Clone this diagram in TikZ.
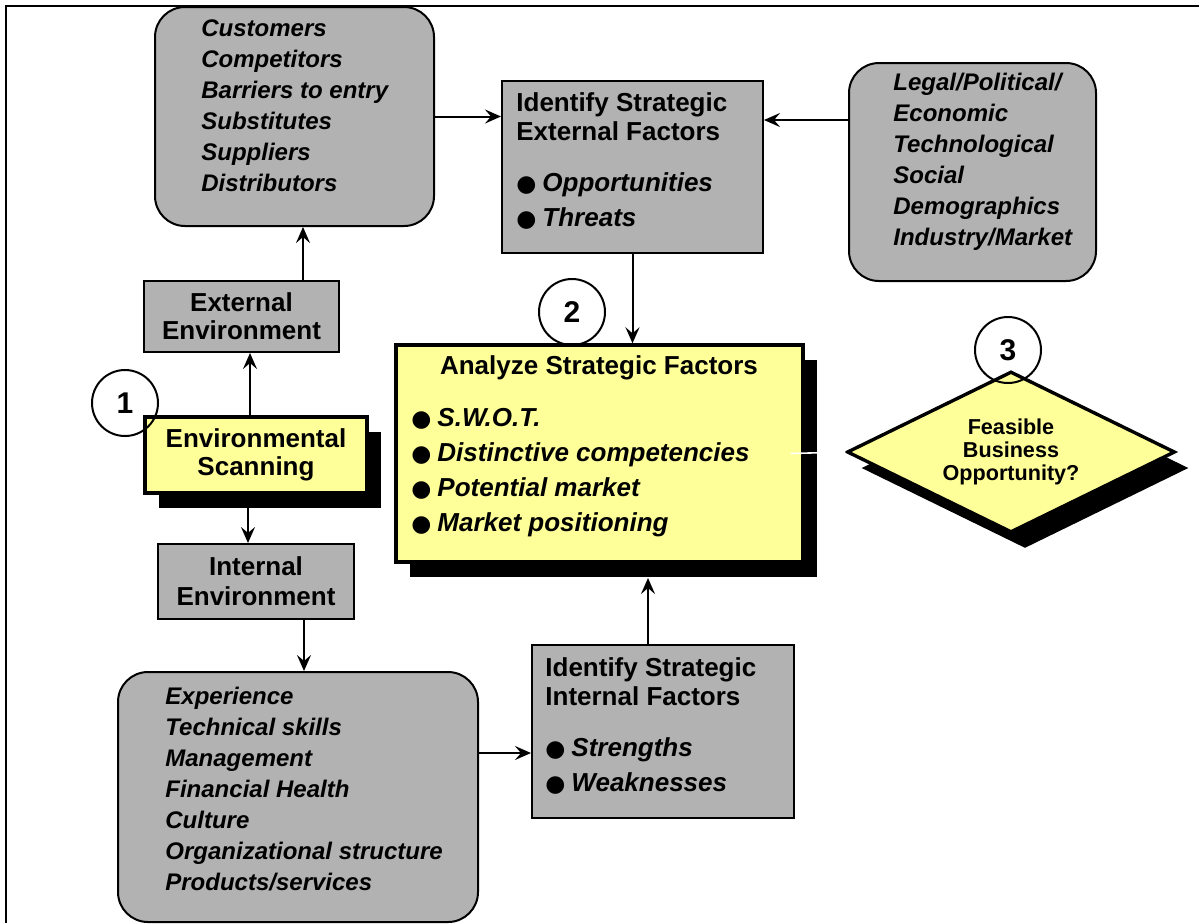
\documentclass[tikz,border=0pt]{standalone}
\usepackage{fontspec}
\setmainfont{Liberation Sans}
\newfontfamily\dotfont{DejaVu Sans}
\usetikzlibrary{arrows.meta, positioning, shapes.geometric, shadows}
\definecolor{boxgrey}{RGB}{178,178,178}
\definecolor{noteyellow}{RGB}{255,255,153}
\newcommand{\bul}{{\dotfont\fontsize{11.5}{11.5}\selectfont ●}\hspace{3pt}}
\tikzstyle{every node}=[font=\bfseries\fontsize{13}{14.5}\selectfont]
\tikzset{GreyBox/.style = {
			shape          = rectangle,
			draw           = black,
			fill           = boxgrey,
			line width     = 1pt,
			inner sep      = 0pt}
			}
\tikzset{GreyRound/.style = {GreyBox, rounded corners = 15pt}}
\tikzset{YellowBox/.style = {
			shape          = rectangle,
			draw           = black,
			fill           = noteyellow,
			line width     = 1.7pt,
			inner sep      = 0pt,
			drop shadow    = {shadow xshift=7pt, shadow yshift=-7.5pt, fill=black, opacity=1}}
			}
\tikzset{DecisionStyle/.style = {
			shape          = diamond,
			aspect         = 2,
			draw           = black,
			fill           = noteyellow,
			line width     = 1.7pt,
			inner sep      = 0pt,
			minimum width  = 164pt,
			minimum height = 80.5pt,
			align          = center,
			font           = \bfseries\fontsize{10.8}{11.5}\selectfont,
			drop shadow    = {shadow xshift=7pt, shadow yshift=-8pt, fill=black, opacity=1}}
			}
\tikzset{ListStyle/.style = {
			align          = left,
			anchor         = west,
			inner sep      = 0pt,
			font           = \bfseries\itshape\fontsize{12}{15.5}\selectfont}
			}
\tikzset{FactorStyle/.style = {align = left, anchor = west, inner sep = 0pt}}
\tikzset{TitleStyle/.style = {align = center, inner sep = 0pt}}
\tikzset{StepCircle/.style = {
			shape          = circle,
			draw           = black,
			line width     = 1pt,
			minimum size   = 33pt,
			inner sep      = 0pt,
			font           = \bfseries\fontsize{15}{18}\selectfont}
			}
\tikzset{EdgeStyle/.style = {line width=1pt, -{Stealth[length=8pt, width=7pt, inset=3pt]}}}

\begin{document}
\begin{tikzpicture}[x=0.5pt,y=-0.5pt]
	\useasboundingbox (0,0) rectangle (1199,923);
	\draw[line width=1pt] (6,923) -- (6,6) -- (1199,6);

	% boxes
	\draw (294.5,116.5) node[GreyRound, minimum width=139.5pt, minimum height=109.5pt] (ExtList) {};
	\draw (632.5,167) node[GreyBox, minimum width=130.5pt, minimum height=86pt] (IdExt) {};
	\draw (972.5,172) node[GreyRound, minimum width=123.5pt, minimum height=109pt] (Legal) {};
	\draw (241.5,316.5) node[GreyBox, minimum width=97.5pt, minimum height=35.5pt, align=center, font=\bfseries\fontsize{13}{14}\selectfont] (ExtEnv) {External\\Environment};
	\draw (256,455) node[YellowBox, minimum width=111pt, minimum height=38pt, align=center, font=\bfseries\fontsize{13}{14}\selectfont] (EnvScan) {Environmental\\Scanning};
	\draw (256,581.5) node[GreyBox, minimum width=98pt, minimum height=37.5pt, align=center, font=\bfseries\fontsize{13}{15}\selectfont] (IntEnv) {Internal\\Environment};
	\draw (298,797) node[GreyRound, minimum width=180pt, minimum height=125pt] (IntList) {};
	\draw (663,731.5) node[GreyBox, minimum width=131pt, minimum height=86.5pt] (IdInt) {};
	\draw (599.5,453.5) node[YellowBox, minimum width=203.5pt, minimum height=108.5pt] (Analyze) {};
	\draw (1011,452) node[DecisionStyle] (Decision) {Feasible\\Business\\Opportunity?};

	% texts
	\draw (201,106) node[ListStyle] (ExtListText) {Customers\\Competitors\\Barriers to entry\\Substitutes\\Suppliers\\Distributors};
	\draw (516,160.5) node[FactorStyle] (IdExtText) {Identify Strategic\\External Factors\\[11pt]\bul\textit{Opportunities}\\[3pt]\bul\textit{Threats}};
	\draw (893,162) node[ListStyle] (LegalText) {Legal/Political/\\Economic\\Technological\\Social\\Demographics\\Industry/Market};
	\draw (165,789) node[ListStyle] (IntListText) {Experience\\Technical skills\\Management\\Financial Health\\Culture\\Organizational structure\\Products/services};
	\draw (545,725.5) node[FactorStyle] (IdIntText) {Identify Strategic\\Internal Factors\\[11pt]\bul\textit{Strengths}\\[3pt]\bul\textit{Weaknesses}};
	\draw (599,368) node[TitleStyle] (AnalyzeTitle) {Analyze Strategic Factors};
	\draw (411,472.5) node[FactorStyle] (AnalyzeText) {\bul\textit{S.W.O.T.}\\[3pt]\bul\textit{Distinctive competencies}\\[3pt]\bul\textit{Potential market}\\[3pt]\bul\textit{Market positioning}};

	% connectors
	\coordinate (AnalyzeFoot) at (648,578);
	\draw[EdgeStyle] (ExtList.east) -- (ExtList.east -| IdExt.west);
	\draw[EdgeStyle] (Legal.west |- 0,120) -- (IdExt.east |- 0,120);
	\draw[EdgeStyle] (IdExt.south) -- (IdExt.south |- Analyze.north);
	\draw[EdgeStyle] (ExtEnv.north -| 303,0) -- (ExtList.south -| 303,0);
	\draw[EdgeStyle] (EnvScan.north -| 250,0) -- (ExtEnv.south -| 250,0);
	\draw[EdgeStyle] (EnvScan.south -| 248,0) -- (IntEnv.north -| 248,0);
	\draw[EdgeStyle] (IntEnv.south -| 304,0) -- (IntList.north -| 304,0);
	\draw[EdgeStyle] (IntList.east |- 0,753) -- (IdInt.west |- 0,753);
	\draw[EdgeStyle] (IdInt.north -| AnalyzeFoot) -- (AnalyzeFoot);
	\draw[white, line width=0.8pt] ([xshift=-7pt]Analyze.east) -- (Decision.west);

	% step numbers
	\draw (125,403) node[StepCircle] (StepOne) {1};
	\draw (572,312) node[StepCircle] (StepTwo) {2};
	\draw (1008,350) node[StepCircle] (StepThree) {3};
\end{tikzpicture}
\end{document}
